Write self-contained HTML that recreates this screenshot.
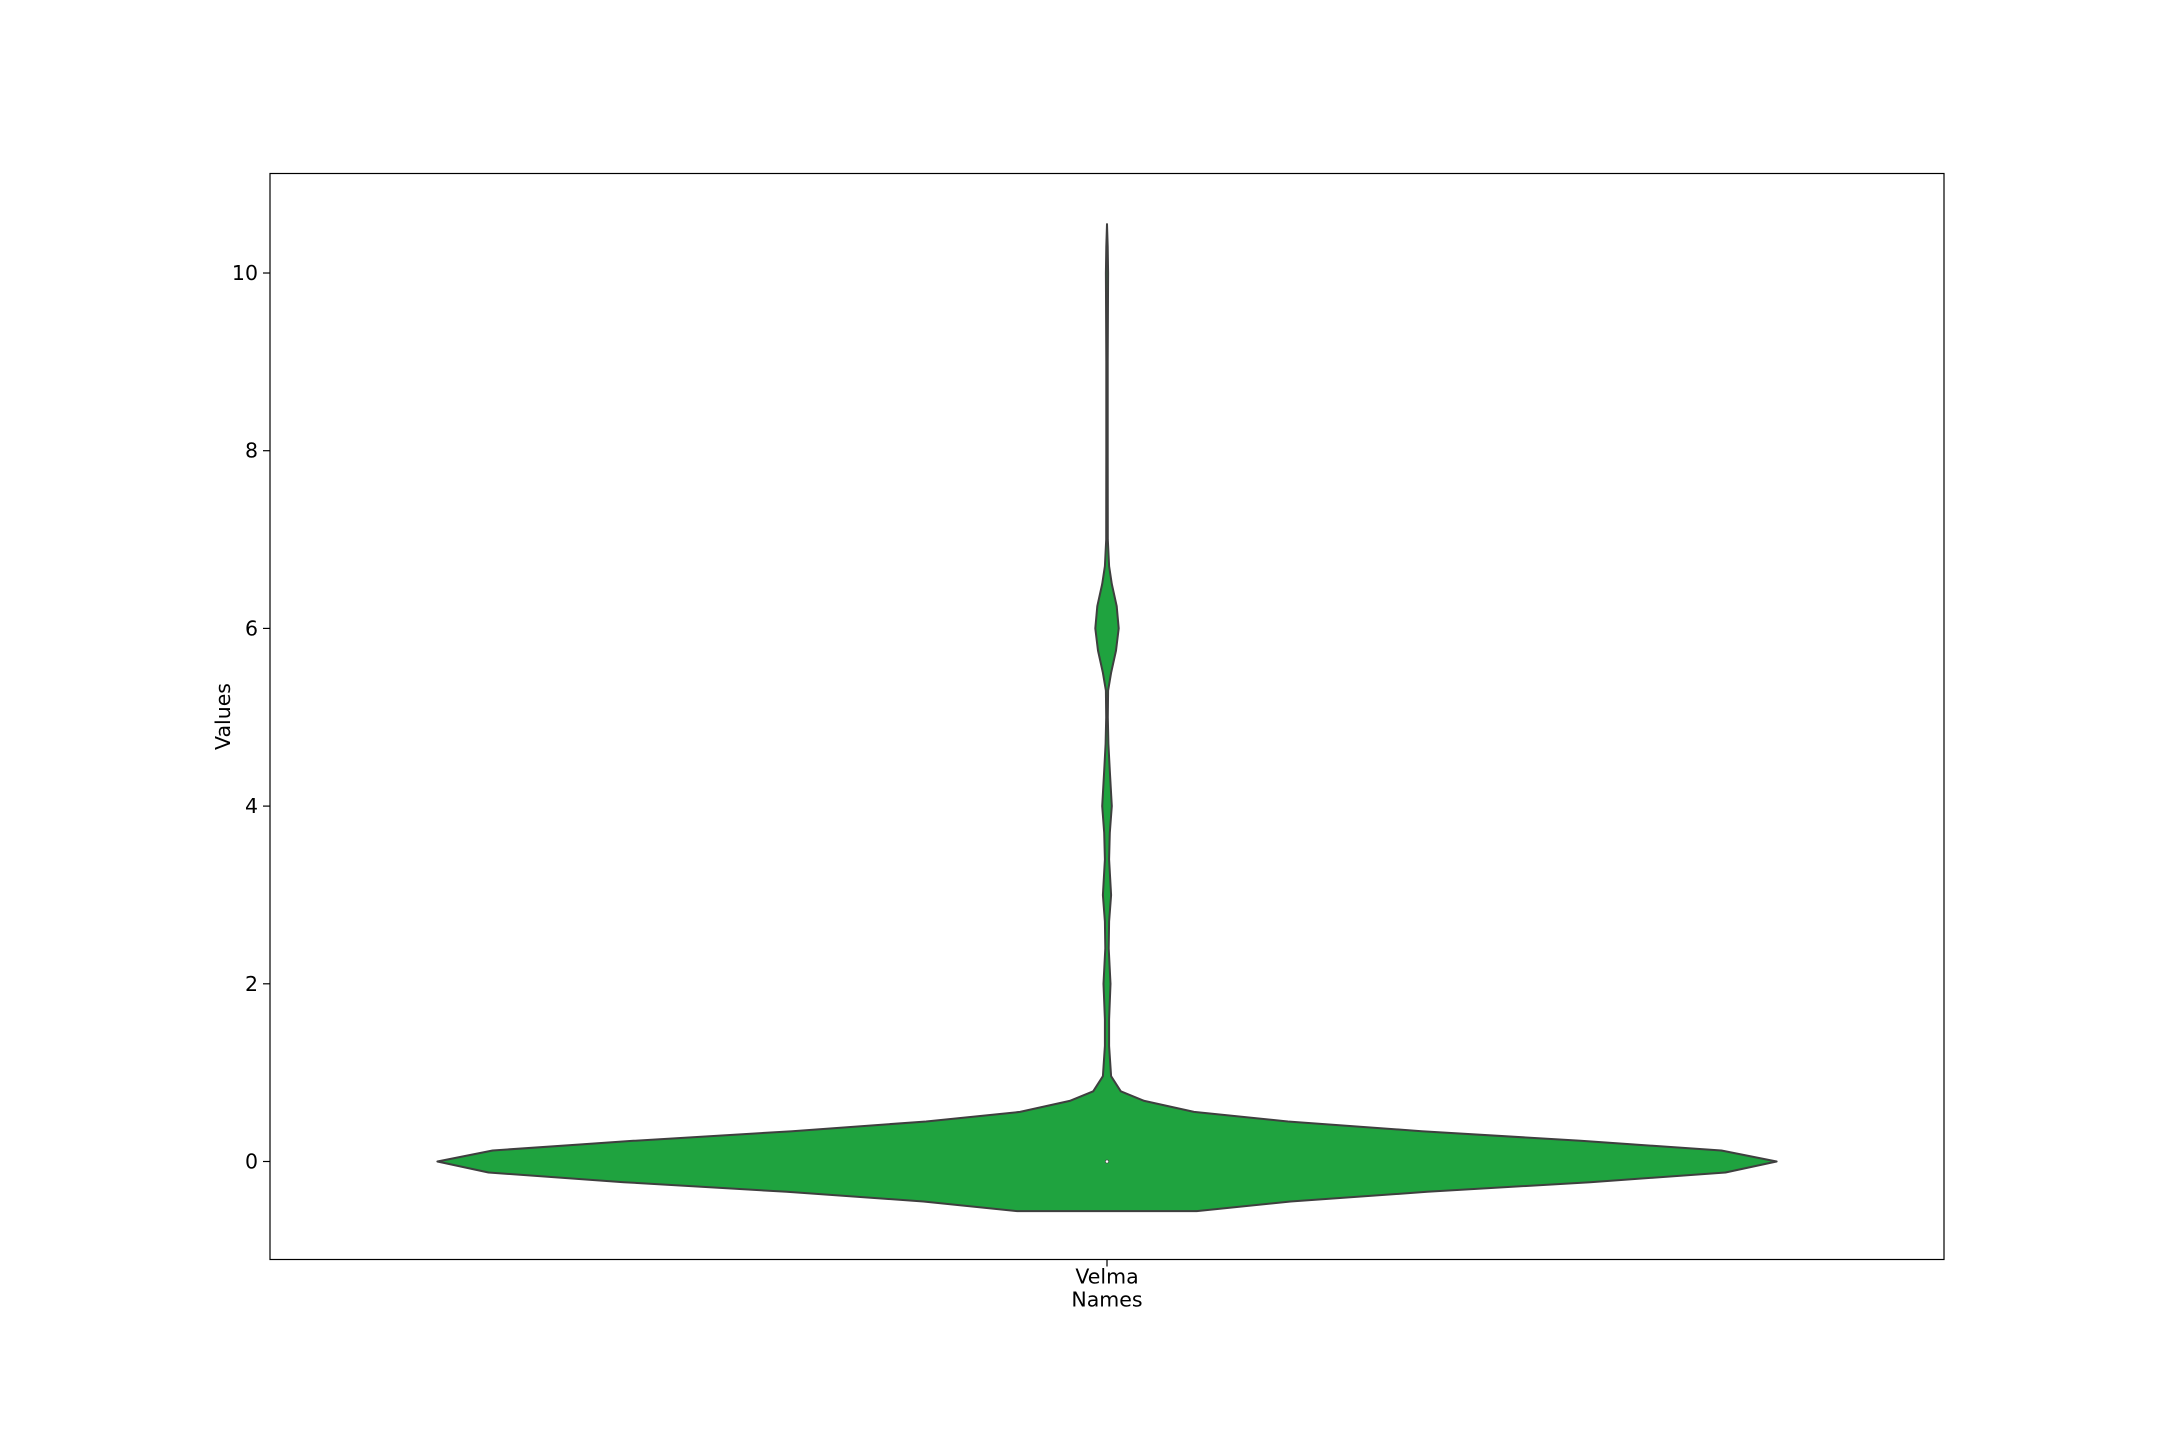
<!DOCTYPE html>
<html><head><meta charset="utf-8"><style>
html,body{margin:0;padding:0;background:#fff;}
svg{display:block;font-family:"DejaVu Sans","Liberation Sans",sans-serif;}
</style></head><body>
<svg id="chart" width="2160" height="1440" viewBox="0 0 2160 1440"></svg>
<script>
const categories = ["Velma"];
const yTicks = [0, 2, 4, 6, 8, 10];
// KDE profile: values and relative density (symmetric)
const profileValues = [-0.558, -0.45, -0.341, -0.233, -0.124, 0, 0.124, 0.233, 0.341, 0.45, 0.558, 0.682, 0.79, 0.96, 1.3, 1.6, 2.0, 2.4, 2.7, 3.0, 3.4, 3.7, 4.0, 4.4, 4.7, 5.0, 5.3, 5.5, 5.75, 6.0, 6.25, 6.5, 6.7, 7.0, 8.0, 9.0, 10.0, 10.3, 10.55];
const profileDensity = [65, 133, 232, 350, 448, 485, 445, 343, 228, 131, 63, 27, 10, 3, 1.5, 1.5, 2.5, 1.2, 1.5, 3, 1.5, 2, 3.5, 2, 1, 0.6, 0.8, 3, 6.5, 8.5, 7, 3.5, 1.5, 0.6, 0.5, 0.5, 0.8, 0.5, 0];
const medianValue = 0;

const NS = "http://www.w3.org/2000/svg";
const svg = document.getElementById("chart");
const L = 270, R = 1944, T = 173.5, B = 1259.5;
const yMin = -1.103, yMax = 11.12;
const y = v => B - (v - yMin) / (yMax - yMin) * (B - T);
const x = i => L + (i + 0.5) / categories.length * (R - L);
const pxPerUnitX = (R - L) / categories.length;
function mk(tag, attrs, parent) { const e = document.createElementNS(NS, tag); for (const k in attrs) e.setAttribute(k, attrs[k]); (parent || svg).appendChild(e); return e; }

const maxD = Math.max(...profileDensity);
categories.forEach((c, i) => {
  const cx = x(i);
  const hw = d => d / maxD * 0.4 * pxPerUnitX;
  let pts = [];
  for (let k = 0; k < profileValues.length; k++) pts.push([cx - hw(profileDensity[k]), y(profileValues[k])]);
  for (let k = profileValues.length - 1; k >= 0; k--) pts.push([cx + hw(profileDensity[k]), y(profileValues[k])]);
  const p = mk("polygon", { points: pts.map(q => q[0].toFixed(1) + "," + q[1].toFixed(1)).join(" "), fill: "#1fa33f", stroke: "#3f3f3f", "stroke-width": 2, "stroke-linejoin": "round" });
  
  
  const m = mk("circle", { cx: cx, cy: y(medianValue), r: 1.6, fill: "#fff", stroke: "#3f3f3f", "stroke-width": 0.6 });
  
  
  const t = mk("line", { x1: cx, x2: cx, y1: B, y2: B + 7, stroke: "#000", "stroke-width": 1.2 });
  
  
  const lbl = mk("text", { x: cx, y: B + 24, "text-anchor": "middle", "font-size": 20.5, fill: "#000" });
  lbl.textContent = c;
  
  
});

yTicks.forEach(v => {
  const t = mk("line", { x1: L - 7, x2: L, y1: y(v), y2: y(v), stroke: "#000", "stroke-width": 1.2 });
  
  
  const lbl = mk("text", { x: L - 12, y: y(v) + 7, "text-anchor": "end", "font-size": 20.5, fill: "#000" });
  lbl.textContent = v;
  
  
});

const frame = mk("rect", { x: L, y: T, width: R - L, height: B - T, fill: "none", stroke: "#000", "stroke-width": 1.2 });



const xt = mk("text", { x: (L + R) / 2, y: B + 47, "text-anchor": "middle", "font-size": 20.5, fill: "#000" });
xt.textContent = "Names";


const yt = mk("text", { x: 0, y: 0, "text-anchor": "middle", "font-size": 20.5, fill: "#000", transform: "translate(230," + ((T + B) / 2) + ") rotate(-90)" });
yt.textContent = "Values";


</script>
</body></html>
